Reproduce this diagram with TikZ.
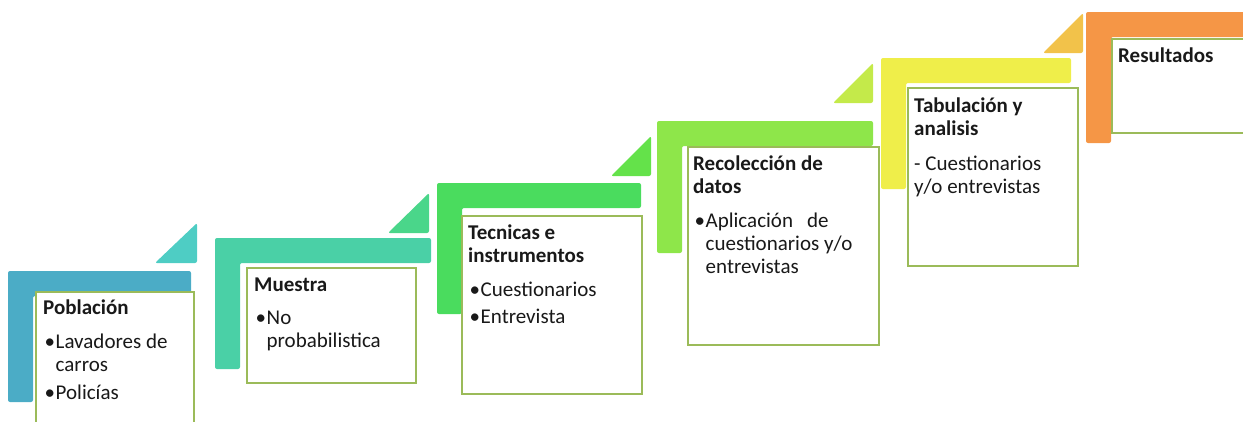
\documentclass[tikz,border=0pt]{standalone}
\usepackage{fontspec}
\setmainfont{Carlito}
\usetikzlibrary{calc}
\definecolor{cL1}{HTML}{4BACC6}
\definecolor{cT1}{HTML}{4ECDC4}
\definecolor{cL2}{HTML}{4AD0A6}
\definecolor{cT2}{HTML}{4AD68A}
\definecolor{cL3}{HTML}{4ADC5E}
\definecolor{cT3}{HTML}{64E24A}
\definecolor{cL4}{HTML}{8EE64A}
\definecolor{cT4}{HTML}{C4EA4A}
\definecolor{cL5}{HTML}{EFEE4A}
\definecolor{cT5}{HTML}{F2C24A}
\definecolor{cL6}{HTML}{F59646}
\definecolor{boxline}{HTML}{9BBB59}
\newcommand\myitm{\makebox[12.5pt][l]{\hspace{1.5pt}\textbullet}}
\newcommand\myind{\hspace*{12.5pt}}
% L shape: color, left, top, right, bottom
\newcommand\drawL[5]{\fill[#1,rounded corners=2pt] (#2,#3) -- (#4,#3) -- (#4,{#3+25}) -- ({#2+25},{#3+25}) -- ({#2+25},#5) -- (#2,#5) -- cycle;}
% triangle: color, left, bottom, right, top
\newcommand\drawT[5]{\fill[#1,rounded corners=2pt] (#2,#3) -- (#4,#3) -- (#4,#5) -- cycle;}
\tikzset{
  stepbox/.style={draw=boxline, line width=2pt, fill=white, inner sep=0pt, anchor=north west},
  steptxt/.style={inner sep=0pt, anchor=base west, text=black!90, font=\fontsize{21}{23}\selectfont}
}
\begin{document}
\begin{tikzpicture}[x=1pt,y=-1pt]
\useasboundingbox (0,0) rectangle (1243,421);
\clip (0,0) rectangle (1243,421);
% L shapes and triangles
\drawL{cL1}{8}{271}{191}{402}
\drawT{cT1}{155}{263}{197}{223}
\drawL{cL2}{215}{238}{431}{369}
\drawT{cT2}{388}{233}{429}{193}
\drawL{cL3}{437}{183}{641}{314}
\drawT{cT3}{611}{176}{651}{136}
\drawL{cL4}{657}{121}{873}{253}
\drawT{cT4}{833}{103}{873}{63}
\drawL{cL5}{881}{58}{1071}{189}
\drawT{cT5}{1043}{53}{1083}{13}
\drawL{cL6}{1086}{12}{1300}{143}
% boxes
\node[stepbox, minimum width=158pt, minimum height=140pt] (b1) at (35,291) {};
\node[stepbox, minimum width=169pt, minimum height=115pt] (b2) at (246,267) {};
\node[stepbox, minimum width=180pt, minimum height=178pt] (b3) at (461,215) {};
\node[stepbox, minimum width=191pt, minimum height=198pt] (b4) at (687,146) {};
\node[stepbox, minimum width=170pt, minimum height=178pt] (b5) at (907,87) {};
\node[stepbox, minimum width=160pt, minimum height=94pt] (b6) at (1111,38) {};
% texts
\node[steptxt] (t1) at ($(b1.north west)+(8,23)$) {\parbox[t]{200pt}{\raggedright
  \textbf{Población}\\[11pt]
  \myitm Lavadores de\\
  \myind carros\\[5pt]
  \myitm Policías}};
\node[steptxt] (t2) at ($(b2.north west)+(8,24)$) {\parbox[t]{200pt}{\raggedright
  \textbf{Muestra}\\[10pt]
  \myitm No\\
  \myind probabilistica}};
\node[steptxt] (t3) at ($(b3.north west)+(7,24)$) {\parbox[t]{200pt}{\raggedright
  \textbf{Tecnicas e}\\
  \textbf{instrumentos}\\[11pt]
  \myitm Cuestionarios\\[4pt]
  \myitm Entrevista}};
\node[steptxt] (t4) at ($(b4.north west)+(6,24)$) {\parbox[t]{220pt}{\raggedright
  \textbf{Recolección de}\\
  \textbf{datos}\\[11pt]
  \myitm Aplicación\hspace{14pt}de\\
  \myind cuestionarios y/o\\
  \myind entrevistas}};
\node[steptxt] (t5) at ($(b5.north west)+(7,25)$) {\parbox[t]{200pt}{\raggedright
  \textbf{Tabulación y}\\
  \textbf{analisis}\\[12pt]
  - Cuestionarios\\
  y/o entrevistas}};
\node[steptxt] (t6) at ($(b6.north west)+(7,24)$) {\parbox[t]{200pt}{\raggedright
  \textbf{Resultados}}};
\end{tikzpicture}
\end{document}
